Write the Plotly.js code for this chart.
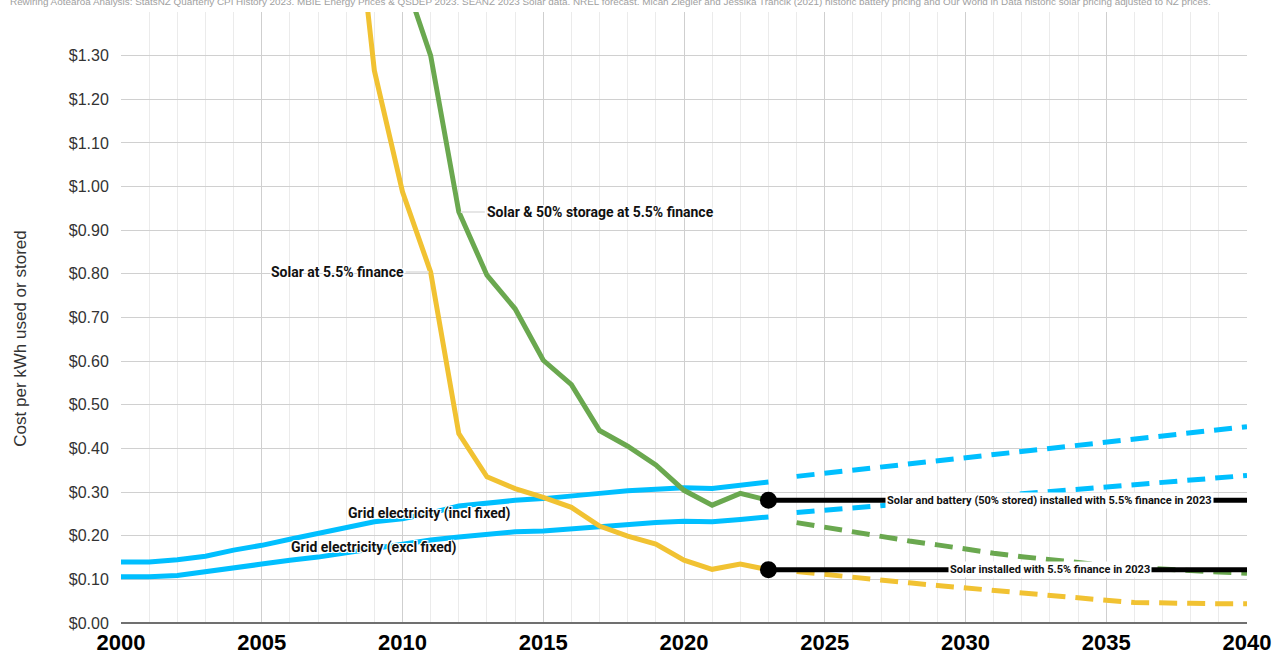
<!DOCTYPE html>
<html>
<head>
<meta charset="utf-8">
<script src="https://cdn.plot.ly/plotly-3.0.1.min.js"></script>
<style>html,body{margin:0;padding:0;background:#fff;}#chart{width:1277px;height:655px;}</style>
</head>
<body>
<div id="chart"></div>
<script>
// ---- Data ----
const histYears = [2000,2001,2002,2003,2004,2005,2006,2007,2008,2009,2010,2011,2012,2013,2014,2015,2016,2017,2018,2019,2020,2021,2022,2023];
const gridIncl = [0.140,0.140,0.145,0.153,0.167,0.178,0.192,0.205,0.220,0.232,0.239,0.252,0.268,0.275,0.281,0.285,0.290,0.297,0.303,0.307,0.310,0.308,0.316,0.323];
const gridExcl = [0.106,0.106,0.109,0.117,0.126,0.135,0.144,0.151,0.161,0.171,0.180,0.190,0.197,0.203,0.209,0.211,0.216,0.222,0.226,0.230,0.233,0.232,0.237,0.243];

const solarYears = [2008,2009,2010,2011,2012,2013,2014,2015,2016,2017,2018,2019,2020,2021,2022,2023];
const solarCost = [1.85,1.266,0.988,0.804,0.434,0.335,0.308,0.288,0.265,0.222,0.199,0.181,0.144,0.123,0.135,0.122];

const batteryYears = [2010,2011,2012,2013,2014,2015,2016,2017,2018,2019,2020,2021,2022,2023];
const batteryCost = [1.49,1.30,0.942,0.797,0.720,0.602,0.546,0.441,0.405,0.362,0.304,0.270,0.297,0.281];

const projYears = [2024,2025,2026,2027,2028,2029,2030,2031,2032,2033,2034,2035,2036,2037,2038,2039,2040];
const gridInclProj = [0.336,0.343,0.349,0.357,0.364,0.371,0.378,0.385,0.392,0.399,0.406,0.413,0.421,0.428,0.435,0.443,0.450];
const gridExclProj = [0.253,0.258,0.264,0.269,0.274,0.280,0.285,0.290,0.296,0.301,0.306,0.311,0.317,0.322,0.327,0.333,0.338];
const batteryProj = [0.230,0.219,0.208,0.198,0.188,0.179,0.169,0.160,0.152,0.145,0.138,0.132,0.127,0.123,0.120,0.117,0.114];
const solarProj = [0.118,0.111,0.104,0.098,0.092,0.086,0.080,0.075,0.070,0.064,0.058,0.052,0.047,0.045,0.045,0.044,0.044];

const fixedYears = [2023,2040];
const batteryFixed2023 = [0.281,0.281];
const solarFixed2023 = [0.122,0.122];

const yTickVals = [0,0.1,0.2,0.3,0.4,0.5,0.6,0.7,0.8,0.9,1.0,1.1,1.2,1.3];
const xTickVals = [2000,2005,2010,2015,2020,2025,2030,2035,2040];

const labelBattery = "Solar & 50% storage at 5.5% finance";
const labelSolar = "Solar at 5.5% finance";
const labelGridIncl = "Grid electricity (incl fixed)";
const labelGridExcl = "Grid electricity (excl fixed)";
const labelBatteryFixed = "Solar and battery (50% stored) installed with 5.5% finance in 2023";
const labelSolarFixed = "Solar installed with 5.5% finance in 2023";
const yTitle = "Cost per kWh used or stored";
const sourceText = "Rewiring Aotearoa Analysis: StatsNZ Quarterly CPI History 2023. MBIE Energy Prices & QSDEP 2023. SEANZ 2023 Solar data. NREL forecast. Micah Ziegler and Jessika Trancik (2021) historic battery pricing and Our World in Data historic solar pricing adjusted to NZ prices.";

// ---- Styles ----
const BLUE = "#00BFFF", YELLOW = "#F1C232", GREEN = "#6AA84F";
const LW = 5;
const DASH = "18px,10px";

function line(x, y, color, dash) {
  return {x: x, y: y, type: "scatter", mode: "lines", hoverinfo: "skip",
          line: {color: color, width: LW, dash: dash || "solid"}};
}

const traces = [
  line(histYears, gridIncl, BLUE),
  line(histYears, gridExcl, BLUE),
  line(solarYears, solarCost, YELLOW),
  line(batteryYears, batteryCost, GREEN),
  line(projYears, gridInclProj, BLUE, DASH),
  line(projYears, gridExclProj, BLUE, DASH),
  line(projYears, batteryProj, GREEN, DASH),
  line(projYears, solarProj, YELLOW, DASH),
  {x: fixedYears, y: batteryFixed2023, type: "scatter", mode: "lines+markers", hoverinfo: "skip",
   line: {color: "#000", width: LW}, marker: {color: "#000", size: [17, 0], opacity: 1, line: {width: 0}}},
  {x: fixedYears, y: solarFixed2023, type: "scatter", mode: "lines+markers", hoverinfo: "skip",
   line: {color: "#000", width: LW}, marker: {color: "#000", size: [17, 0], opacity: 1, line: {width: 0}}}
];

const halo = "-1px -1px 0 #fff, 1px -1px 0 #fff, -1px 1px 0 #fff, 1px 1px 0 #fff";
const labelFont = {family: "Roboto, Arial, sans-serif", size: 14, color: "#111", weight: "bold", shadow: halo};
const smallFont = {family: "Roboto, Arial, sans-serif", size: 11, color: "#111", weight: "bold"};
const axisFont = "Arial, 'Liberation Sans', sans-serif";

const annotations = [
  {x: batteryYears[2], y: batteryCost[2], xref: "x", yref: "y", text: labelBattery,
   showarrow: true, arrowhead: 0, arrowwidth: 2, arrowcolor: "#e6e6e6", ax: 26, ay: 0,
   xanchor: "left", yanchor: "middle", font: labelFont, standoff: 2},
  {x: solarYears[3], y: solarCost[3], xref: "x", yref: "y", text: labelSolar,
   showarrow: true, arrowhead: 0, arrowwidth: 2, arrowcolor: "#e6e6e6", ax: -25, ay: 0,
   xanchor: "right", yanchor: "middle", font: labelFont, standoff: 2},
  {x: 2010.97, y: 0.2516, xref: "x", yref: "y", text: labelGridIncl, showarrow: false,
   xanchor: "center", yanchor: "middle", font: labelFont},
  {x: 2008.97, y: 0.173, xref: "x", yref: "y", text: labelGridExcl, showarrow: false,
   xanchor: "center", yanchor: "middle", font: labelFont},
  {x: 2033, y: batteryFixed2023[0], xref: "x", yref: "y", text: labelBatteryFixed, showarrow: false,
   xanchor: "center", yanchor: "middle", bgcolor: "#fff", borderpad: 1, font: smallFont},
  {x: 2033, y: solarFixed2023[0], xref: "x", yref: "y", text: labelSolarFixed, showarrow: false,
   xanchor: "center", yanchor: "middle", bgcolor: "#fff", borderpad: 1, font: smallFont},
  {x: -0.1005, y: 1, xref: "paper", yref: "paper", text: sourceText, showarrow: false,
   xanchor: "left", yanchor: "middle", yshift: 11,
   font: {family: axisFont, size: 9.9, color: "#a0a0a0"}},
  {x: -0.089, y: 0.465, xref: "paper", yref: "paper", text: yTitle, showarrow: false,
   textangle: -90, xanchor: "center", yanchor: "middle",
   font: {family: axisFont, size: 17, color: "#333"}}
];

const layout = {
  width: 1277, height: 655,
  margin: {l: 121, r: 30, t: 12, b: 32, pad: 0},
  paper_bgcolor: "#fff", plot_bgcolor: "#fff",
  showlegend: false,
  xaxis: {
    range: [2000, 2040], tickvals: xTickVals, ticks: "", showline: false,
    showgrid: true, gridcolor: "#cfcfcf", gridwidth: 1, zeroline: false,
    minor: {dtick: 1, tick0: 2000, showgrid: true, gridcolor: "#ebebeb", gridwidth: 1},
    tickfont: {family: axisFont, size: 22, color: "#000", weight: "bold"},
    ticklabelstandoff: 4,
    automargin: false, fixedrange: true
  },
  yaxis: {
    range: [0, 1.4], tickvals: yTickVals, tickformat: "$.2f",
    ticks: "outside", ticklen: 8, tickcolor: "rgba(0,0,0,0)",
    showgrid: true, gridcolor: "#d0d0d0", gridwidth: 1,
    zeroline: true, zerolinecolor: "#707070", zerolinewidth: 2.5, showline: false,
    tickfont: {family: axisFont, size: 16, color: "#333"},
    automargin: false, fixedrange: true
  },
  annotations: annotations
};

Plotly.newPlot("chart", traces, layout, {displayModeBar: false, staticPlot: true});
</script>
</body>
</html>
